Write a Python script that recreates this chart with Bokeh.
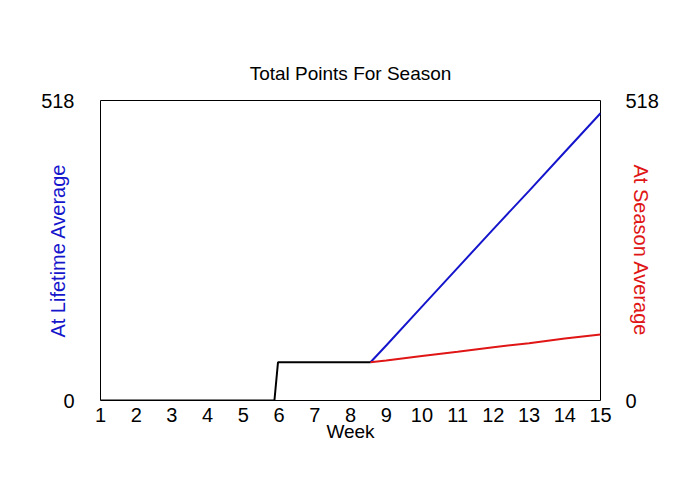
from bokeh.plotting import figure
from bokeh.models import LinearAxis, FixedTicker, Range1d
from bokeh.embed import file_html
from bokeh.resources import INLINE

# Data
actual_weeks = [1, 5.87, 5.97, 8.56]
actual_points = [0, 0, 66, 66]

lifetime_weeks = [8.56, 9, 10, 11, 12, 13, 14, 15]
lifetime_points = [66, 95, 162, 229, 296, 362, 429, 496]

season_weeks = [8.56, 9, 10, 11, 12, 13, 14, 15]
season_points = [66, 69, 77, 84, 92, 99, 107, 114]

x_ticks = list(range(1, 16))
y_ticks = [0, 518]

FONT = "Liberation Sans"
BLUE = "#1515cc"
RED = "#e01515"

p = figure(width=690, height=480, output_backend="svg", toolbar_location=None,
           x_range=Range1d(1, 15), y_range=Range1d(0, 518),
           min_border_left=100, min_border_right=90, min_border_top=100, min_border_bottom=80,
           title="Total Points For Season")
p.title.align = "center"
p.title.text_font = FONT
p.title.text_font_size = "19px"
p.title.text_font_style = "normal"
p.title.text_color = "black"
p.title.standoff = 34

p.grid.visible = False
p.outline_line_color = "black"
p.outline_line_width = 1
p.background_fill_color = "white"
p.border_fill_color = "white"

def style_axis(ax):
    ax.major_tick_line_color = None
    ax.minor_tick_line_color = None
    ax.axis_line_color = None
    ax.major_label_text_font = FONT
    ax.major_label_text_font_size = "20px"
    ax.major_label_text_color = "black"
    ax.axis_label_text_font = FONT
    ax.axis_label_text_font_size = "20px"
    ax.axis_label_text_font_style = "normal"

xa = p.xaxis[0]
style_axis(xa)
xa.ticker = FixedTicker(ticks=x_ticks)
xa.major_label_standoff = 1
xa.axis_label = "Week"
xa.axis_label_standoff = -4
xa.axis_label_text_font_size = "19px"
xa.axis_label_text_color = "black"

ya = p.yaxis[0]
style_axis(ya)
ya.ticker = FixedTicker(ticks=y_ticks)
ya.major_label_standoff = 20
ya.axis_label = "At Lifetime Average"
ya.axis_label_text_color = BLUE
ya.axis_label_standoff = -31

ra = LinearAxis()
style_axis(ra)
ra.ticker = FixedTicker(ticks=y_ticks)
ra.major_label_standoff = 19
ra.axis_label = "At Season Average"
ra.axis_label_text_color = RED
ra.axis_label_standoff = -32
p.add_layout(ra, "right")

p.line(lifetime_weeks, lifetime_points, line_color=BLUE, line_width=2)
p.line(season_weeks, season_points, line_color=RED, line_width=2)
p.line(actual_weeks, actual_points, line_color="black", line_width=2)

open("out.html", "w").write(file_html(p, INLINE))
